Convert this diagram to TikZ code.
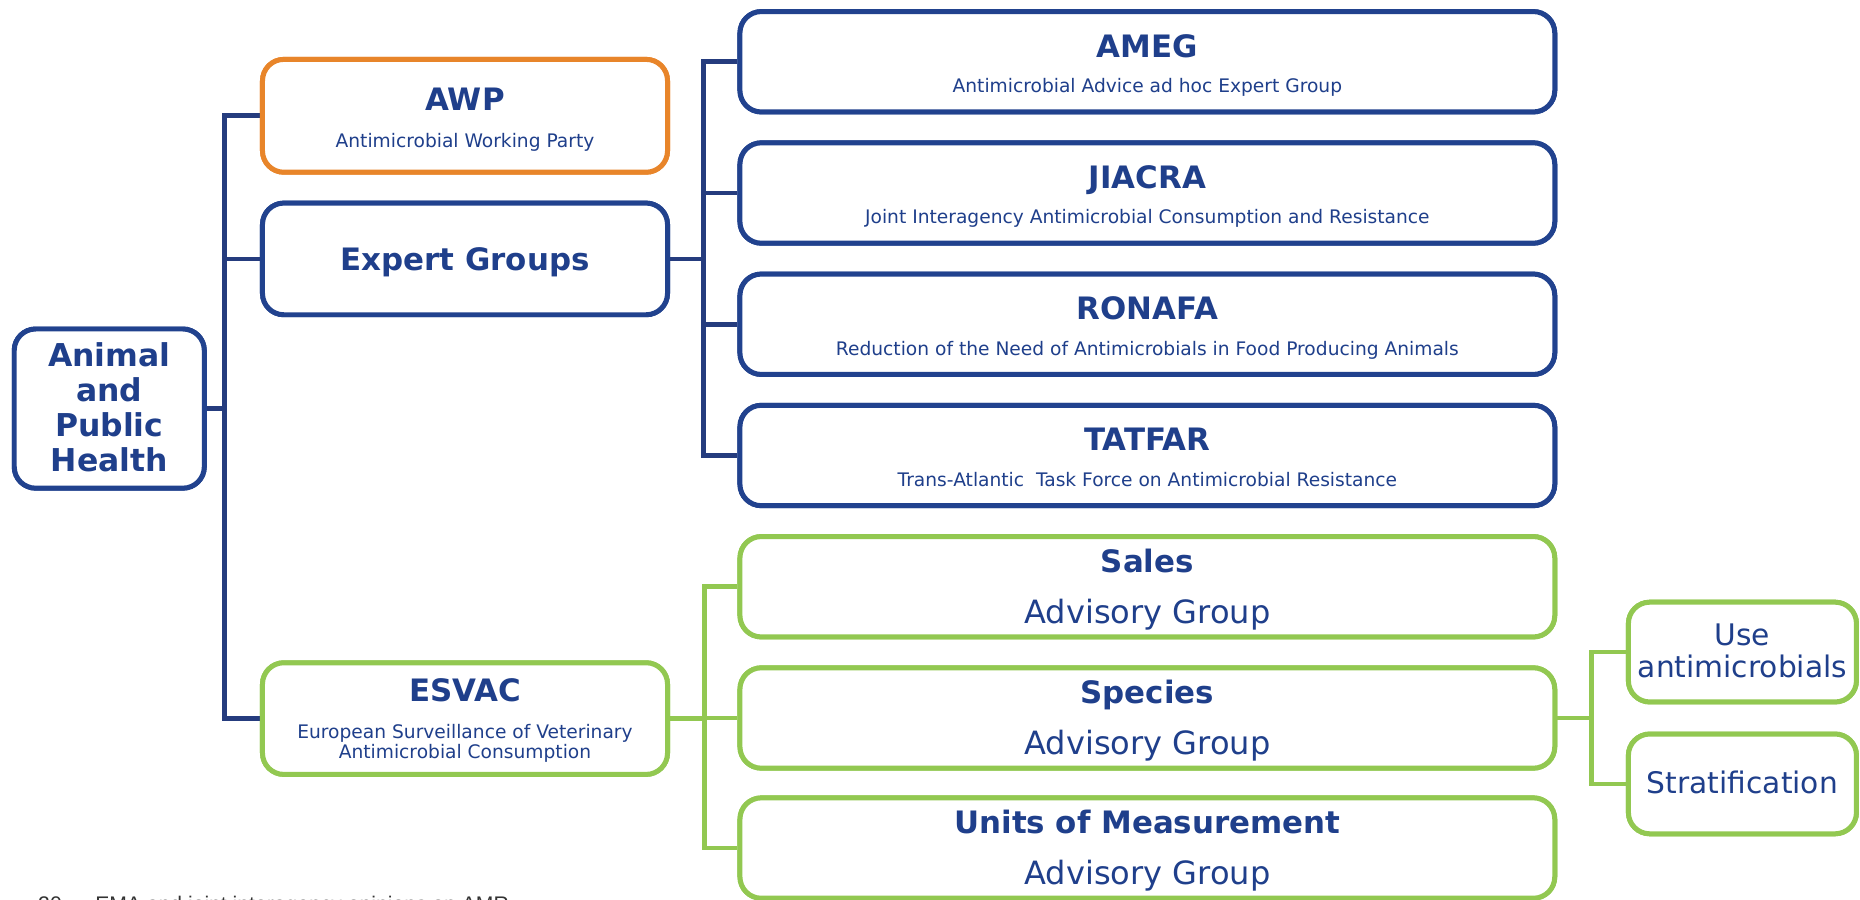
\documentclass[tikz,border=0pt]{standalone}
\usepackage{fontspec}
\setmainfont{DejaVu Sans}
\newfontfamily\footfont{Liberation Sans}
\definecolor{navy}{HTML}{21428E}
\definecolor{conn}{HTML}{253C7E}
\definecolor{orng}{HTML}{E8852A}
\definecolor{grn}{HTML}{92C851}
\definecolor{txt}{HTML}{1F3F8B}
\begin{document}
\begin{tikzpicture}[x=1pt,y=-1pt,
  box/.style={draw=navy, line width=4.2pt, rounded corners=18pt, fill=white, inner sep=0pt},
  obox/.style={box, draw=orng},
  gbox/.style={box, draw=grn},
  wide/.style={minimum width=686pt, minimum height=84.5pt},
  mid/.style={minimum width=341pt, minimum height=95pt},
  small/.style={minimum width=192pt, minimum height=84pt},
  nconn/.style={draw=conn, line width=4pt},
  gconn/.style={draw=grn, line width=4pt},
  ttl/.style={text=txt, inner sep=0pt, anchor=base, font=\bfseries\fontsize{26}{29}\selectfont},
  sub/.style={text=txt, inner sep=0pt, anchor=base, font=\fontsize{15.7}{17}\selectfont},
  adv/.style={text=txt, inner sep=0pt, anchor=base, font=\fontsize{27}{30}\selectfont},
  lbl/.style={text=txt, inner sep=0pt, align=center, font=\fontsize{25}{27}\selectfont},
  foot/.style={text=black!80, inner sep=0pt, anchor=base west, font=\footfont\fontsize{17.8}{20}\selectfont}
]
\useasboundingbox (0,0) rectangle (1566,757);

% coordinates of the buses
\coordinate (lbus) at (189,344);
\coordinate (mbus) at (592,218);
\coordinate (gbus) at (593,605);
\coordinate (rbus) at (1340,604.5);

% boxes
\path
  node[box, minimum width=160pt, minimum height=134pt] (animal) at (92,344) {}
  node[obox, mid] (awp) at (391.5,97.5) {}
  node[box, mid, minimum height=94pt] (expert) at (391.5,218) {}
  node[gbox, mid, minimum height=94pt] (esvac) at (391.5,605) {}
  node[box, wide] (ameg) at (966,52) {}
  node[box, wide] (jiacra) at (966,162.5) {}
  node[box, wide] (ronafa) at (966,273) {}
  node[box, wide] (tatfar) at (966,383.5) {}
  node[gbox, wide] (sales) at (966,494) {}
  node[gbox, wide] (species) at (966,604.5) {}
  node[gbox, wide] (units) at (966,714) {}
  node[gbox, small] (use) at (1467,549) {}
  node[gbox, small] (strat) at (1467,660) {};

% connectors
\draw[nconn] (animal.east) -- (lbus);
\draw[nconn] (awp.west) -| (lbus) |- (esvac.west);
\draw[nconn] (expert.west) -- (expert.west -| lbus);
\draw[nconn] (expert.east) -- (mbus);
\draw[nconn] (ameg.west) -| (mbus) |- (tatfar.west);
\draw[nconn] (jiacra.west) -- (jiacra.west -| mbus);
\draw[nconn] (ronafa.west) -- (ronafa.west -| mbus);
\draw[gconn] (esvac.east) -- (gbus);
\draw[gconn] (sales.west) -| (gbus) |- (units.west);
\draw[gconn] (species.west) -- (species.west -| gbus);
\draw[gconn] (species.east) -- (rbus);
\draw[gconn] (use.west) -| (rbus) |- (strat.west);

% redraw boxes over connector ends
\path
  node[box, minimum width=160pt, minimum height=134pt] at (animal.center) {}
  node[obox, mid] at (awp.center) {}
  node[box, mid, minimum height=94pt] at (expert.center) {}
  node[gbox, mid, minimum height=94pt] at (esvac.center) {}
  node[box, wide] at (ameg.center) {}
  node[box, wide] at (jiacra.center) {}
  node[box, wide] at (ronafa.center) {}
  node[box, wide] at (tatfar.center) {}
  node[gbox, wide] at (sales.center) {}
  node[gbox, wide] at (species.center) {}
  node[gbox, wide] at (units.center) {}
  node[gbox, small] at (use.center) {}
  node[gbox, small] at (strat.center) {};

% texts
\node[text=txt, inner sep=0pt, align=center, font=\bfseries\fontsize{26.5}{29.3}\selectfont] (animaltxt) at ([yshift=1pt]animal.center) {Animal\\and\\Public\\Health};

\node[ttl] (awpt) at ([yshift=4.5pt]awp.center) {AWP};
\node[sub] (awps) at ([yshift=-26.5pt]awp.center) {Antimicrobial Working Party};

\node[ttl] (expt) at ([yshift=-10pt]expert.center) {Expert Groups};

\node[ttl] (esvt) at ([yshift=14pt]esvac.center) {ESVAC};
\node[sub, anchor=north, align=center, font=\fontsize{15.7}{17}\selectfont] (esvs) at ([yshift=-4.5pt]esvac.center) {European Surveillance of Veterinary\\Antimicrobial Consumption};

\node[ttl] (amegt) at ([yshift=4pt]ameg.center) {AMEG};
\node[sub] (amegs) at ([yshift=-26pt]ameg.center) {Antimicrobial Advice ad hoc Expert Group};

\node[ttl] (jiat) at ([yshift=4pt]jiacra.center) {JIACRA};
\node[sub] (jias) at ([yshift=-26pt]jiacra.center) {Joint Interagency Antimicrobial Consumption and Resistance};

\node[ttl] (ront) at ([yshift=4pt]ronafa.center) {RONAFA};
\node[sub] (rons) at ([yshift=-26pt]ronafa.center) {Reduction of the Need of Antimicrobials in Food Producing Animals};

\node[ttl] (tatt) at ([yshift=4pt]tatfar.center) {TATFAR};
\node[sub] (tats) at ([yshift=-26pt]tatfar.center) {Trans-Atlantic\ \ Task Force on Antimicrobial Resistance};

\node[ttl] (salt) at ([yshift=12pt]sales.center) {Sales};
\node[adv] (sala) at ([yshift=-31pt]sales.center) {Advisory Group};

\node[ttl] (spet) at ([yshift=12.5pt]species.center) {Species};
\node[adv] (spea) at ([yshift=-30.5pt]species.center) {Advisory Group};

\node[ttl] (unit) at ([yshift=12pt]units.center) {Units of Measurement};
\node[adv] (unia) at ([yshift=-31pt]units.center) {Advisory Group};

\node[lbl] (uset) at ([yshift=1pt]use.center) {Use\\antimicrobials};
\node[lbl] (strt) at ([yshift=1pt]strat.center) {Stratification};

% footer (cut by the page edge)
\node[foot] (pnum) at (32,767) {20};
\node[foot] (ftitle) at (80,767) {EMA and joint interagency opinions on AMR};
\end{tikzpicture}
\end{document}
